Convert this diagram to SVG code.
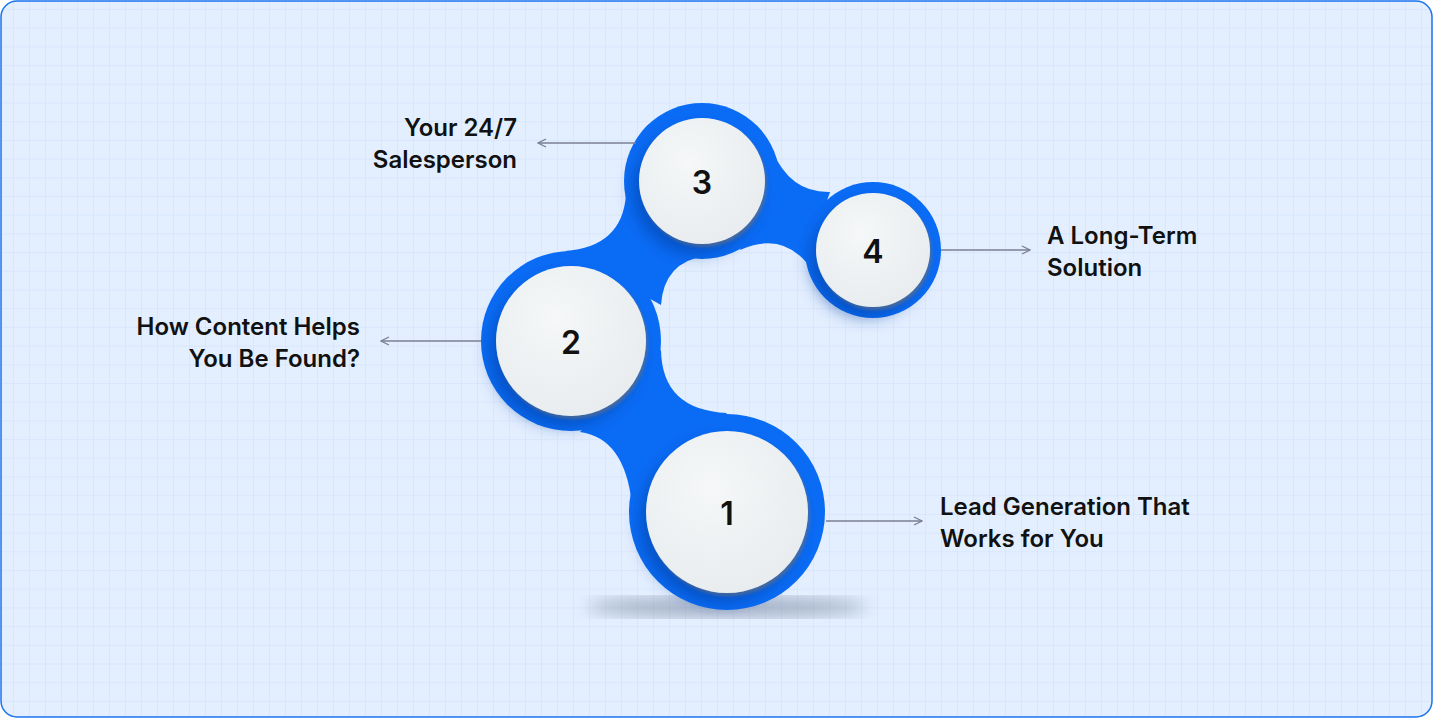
<svg xmlns="http://www.w3.org/2000/svg" width="1433" height="718" viewBox="0 0 1433 718">
<defs>
<pattern id="grid" x="13" y="9" width="16" height="18.7" patternUnits="userSpaceOnUse">
<path d="M0 0V18.7M0 0H16" fill="none" stroke="#cfe0fb" stroke-width="1"/>
</pattern>
<radialGradient id="wg" cx="0.4" cy="0.35" r="0.7">
<stop offset="0" stop-color="#f5f7f8"/><stop offset="1" stop-color="#e8ecee"/>
</radialGradient>
<filter id="ds" x="-30%" y="-30%" width="160%" height="160%">
<feDropShadow dx="-6" dy="10" stdDeviation="8" flood-color="#003a9e" flood-opacity="0.55"/>
</filter>
<filter id="ws" x="-20%" y="-20%" width="140%" height="140%">
<feDropShadow dx="2" dy="3" stdDeviation="1.5" flood-color="#6b7280" flood-opacity="0.6"/>
</filter>
<filter id="blur"><feGaussianBlur stdDeviation="8"/></filter>
<marker id="ah" viewBox="0 0 10 10" refX="9" refY="5" markerWidth="10" markerHeight="10" markerUnits="userSpaceOnUse" orient="auto-start-reverse">
<path d="M1 1L9 5L1 9" fill="none" stroke="#7a7f93" stroke-width="1.3"/>
</marker>
</defs>
<style>
.lbl{font-family:Inter,"Liberation Sans",sans-serif;font-size:24px;font-weight:600;fill:#111}
.num{font-family:Inter,"Liberation Sans",sans-serif;font-size:32px;font-weight:600;fill:#111;text-anchor:middle;dominant-baseline:central}
.blue{fill:#0a6cf5}
.white{fill:url(#wg);filter:url(#ws)}
.conn{stroke:#7a7f93;stroke-width:1.3;fill:none;marker-end:url(#ah)}
</style>
<rect x="1" y="1" width="1431" height="716" rx="16" fill="#e3efff"/>
<rect x="1" y="1" width="1431" height="716" rx="16" fill="url(#grid)"/>
<rect x="1" y="1" width="1431" height="716" rx="16" fill="none" stroke="#1a73f0" stroke-width="1.5"/>
<ellipse cx="727" cy="607" rx="140" ry="10" fill="#6f7d94" opacity="0.55" filter="url(#blur)"/>
<g id="blob">
<path class="blue" d="M580 432 Q625 438 632 505 L727 413 Q662 410 661 350 Z"/>
<path class="blue" d="M565 251 Q622 247 626 195 L705 256 Q664 262 661 305 Z"/>
<path class="blue" d="M772 150 Q790 193 830 192 L806 262 Q780 232 740 250 Z"/>
<circle class="blue" cx="727" cy="512" r="98"/>
<circle class="blue" cx="571" cy="341" r="90"/>
<circle class="blue" cx="702" cy="181" r="78"/>
<circle class="blue" cx="873" cy="250" r="68"/>
</g>
<g id="node1"><circle cx="727" cy="512" r="81" class="blue" filter="url(#ds)"/><circle class="white" cx="727" cy="512" r="81"/><text class="num" x="727" y="513">1</text></g>
<g id="node2"><circle cx="571" cy="341" r="75" class="blue" filter="url(#ds)"/><circle class="white" cx="571" cy="341" r="75"/><text class="num" x="571" y="342">2</text></g>
<g id="node3"><circle cx="702" cy="181" r="63" class="blue" filter="url(#ds)"/><circle class="white" cx="702" cy="181" r="63"/><text class="num" x="702" y="182">3</text></g>
<g id="node4"><circle cx="873" cy="250" r="57" class="blue" filter="url(#ds)"/><circle class="white" cx="873" cy="250" r="57"/><text class="num" x="873" y="251">4</text></g>
<g id="connectors">
<path class="conn" d="M636 143H538"/>
<path class="conn" d="M481 341H381"/>
<path class="conn" d="M941 250H1030"/>
<path class="conn" d="M826 521H922"/>
</g>
<g id="labels">
<text class="lbl" x="517" y="136" text-anchor="end">Your 24/7</text>
<text class="lbl" x="517" y="168" text-anchor="end">Salesperson</text>
<text class="lbl" x="360" y="335" text-anchor="end">How Content Helps</text>
<text class="lbl" x="360" y="367" text-anchor="end">You Be Found?</text>
<text class="lbl" x="1047" y="244">A Long-Term</text>
<text class="lbl" x="1047" y="276">Solution</text>
<text class="lbl" x="940" y="515">Lead Generation That</text>
<text class="lbl" x="940" y="547">Works for You</text>
</g>
</svg>
